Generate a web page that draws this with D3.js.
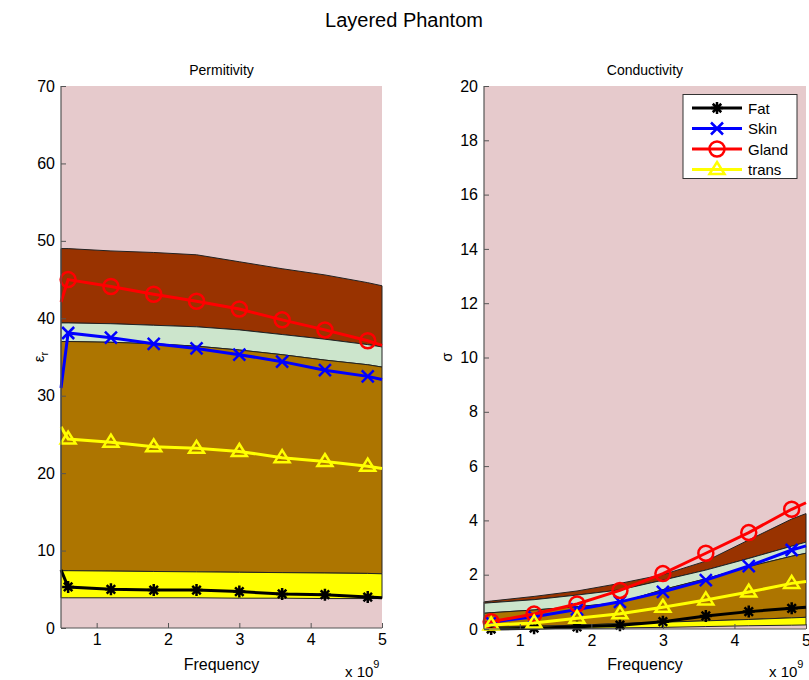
<!DOCTYPE html>
<html><head><meta charset="utf-8">
<script src="https://cdn.jsdelivr.net/npm/d3@7"></script>
<style>
body{margin:0;background:#fff;}
svg{display:block;font-family:"Liberation Sans",Arial,sans-serif;}
</style></head>
<body><svg id="chart" width="809" height="680"></svg>
<script>
// Frequencies in units of 1e9 Hz
const freqs = [0.5, 0.6, 1.2, 1.8, 2.4, 3.0, 3.6, 4.2, 4.8, 5.0];
const xTicks = [1, 2, 3, 4, 5];
const permTicks = [0, 10, 20, 30, 40, 50, 60, 70];
const condTicks = [0, 2, 4, 6, 8, 10, 12, 14, 16, 18, 20];
const seriesNames = ["Fat", "Skin", "Gland", "trans"];

// Permittivity series
const permFat   = [7.5, 5.3, 5.0, 4.9, 4.9, 4.7, 4.4, 4.3, 4.0, 3.9];
const permSkin  = [31.0, 38.1, 37.5, 36.7, 36.1, 35.3, 34.4, 33.3, 32.5, 32.1];
const permGland = [42.1, 45.0, 44.1, 43.1, 42.2, 41.2, 39.8, 38.5, 37.1, 36.5];
const permTrans = [26.0, 24.4, 24.0, 23.4, 23.2, 22.8, 22.0, 21.5, 20.9, 20.6];
// Permittivity band boundaries (top to bottom)
const permGlandTop = [49.0, 49.0, 48.7, 48.5, 48.2, 47.3, 46.4, 45.6, 44.6, 44.2];
const permGreenTop = [39.4, 39.4, 39.3, 39.1, 38.9, 38.5, 37.9, 37.3, 36.6, 36.3];
const permOrangeTop = [37.0, 37.0, 36.9, 36.7, 36.4, 35.9, 35.3, 34.6, 34.0, 33.7];
const permYellowTop = [7.4, 7.4, 7.35, 7.3, 7.25, 7.2, 7.15, 7.1, 7.05, 7.0];
const permYellowBot = [3.9, 3.9, 3.9, 3.9, 3.9, 3.85, 3.85, 3.8, 3.8, 3.8];

// Conductivity series
const condFat   = [0.0, 0.0, 0.03, 0.08, 0.14, 0.27, 0.48, 0.64, 0.76, 0.8];
const condSkin  = [0.2, 0.25, 0.45, 0.72, 1.0, 1.37, 1.8, 2.32, 2.91, 3.06];
const condGland = [0.22, 0.27, 0.55, 0.92, 1.42, 2.04, 2.79, 3.55, 4.41, 4.65];
const condTrans = [0.1, 0.15, 0.22, 0.4, 0.56, 0.8, 1.07, 1.36, 1.68, 1.75];
// Conductivity band boundaries
const condGlandTop = [1.0, 1.03, 1.2, 1.4, 1.68, 2.0, 2.5, 3.28, 4.05, 4.25];
const condGreenTop = [0.95, 0.97, 1.08, 1.25, 1.44, 1.8, 2.17, 2.6, 3.05, 3.2];
const condOrangeTop = [0.58, 0.6, 0.7, 0.82, 0.97, 1.45, 1.85, 2.3, 2.68, 2.79];
const condYellowTop = [0.06, 0.06, 0.1, 0.14, 0.2, 0.25, 0.3, 0.35, 0.41, 0.43];
const condYellowBot = [0.0, 0.0, 0.01, 0.02, 0.04, 0.06, 0.09, 0.12, 0.14, 0.15];

const bgColor = "#e6cacc";
const bandColors = ["#993300", "#cce5cc", "#ad7500", "#ffff00"];
const lineColors = ["#000000", "#0000ff", "#ff0000", "#ffff00"];
const markers = ["star", "x", "circle", "triangle"];

const svg = d3.select("#chart");

svg.append("text").attr("x", 404).attr("y", 27).attr("text-anchor", "middle")
  .attr("font-size", 20).text("Layered Phantom");

function drawMarker(g, type, cx, cy, color) {
  const s = 6;
  if (type === "star") {
    const p = d3.path();
    for (let k = 0; k < 4; k++) {
      const a = k * Math.PI / 4;
      p.moveTo(cx - s * Math.cos(a), cy - s * Math.sin(a));
      p.lineTo(cx + s * Math.cos(a), cy + s * Math.sin(a));
    }
    g.append("path").attr("d", p.toString()).attr("stroke", color).attr("stroke-width", 2.5).attr("fill", "none");
  } else if (type === "x") {
    const p = d3.path();
    p.moveTo(cx - s, cy - s); p.lineTo(cx + s, cy + s);
    p.moveTo(cx - s, cy + s); p.lineTo(cx + s, cy - s);
    g.append("path").attr("d", p.toString()).attr("stroke", color).attr("stroke-width", 2.5).attr("fill", "none");
  } else if (type === "circle") {
    g.append("circle").attr("cx", cx).attr("cy", cy).attr("r", 7.5)
      .attr("stroke", color).attr("stroke-width", 2.5).attr("fill", "none");
  } else {
    const h = 7.5;
    g.append("path").attr("d", `M${cx},${cy - h}L${cx + h},${cy + h * 0.6}L${cx - h},${cy + h * 0.6}Z`)
      .attr("stroke", color).attr("stroke-width", 2.5).attr("fill", "none");
  }
}

function panel(opts) {
  const x = d3.scaleLinear().domain([0.5, 5]).range(opts.xr);
  const y = d3.scaleLinear().domain(opts.yd).range(opts.yr);
  const g = svg.append("g");
  g.append("rect").attr("x", opts.xr[0]).attr("y", opts.yr[1])
    .attr("width", opts.xr[1] - opts.xr[0]).attr("height", opts.yr[0] - opts.yr[1]).attr("fill", bgColor);
  const area = d3.area().x((d, i) => x(freqs[i])).y0(d => y(d[1])).y1(d => y(d[0]));
  const bounds = opts.bounds;
  for (let b = 0; b < bounds.length - 1; b++) {
    const data = bounds[b].map((v, i) => [v, bounds[b + 1][i]]);
    g.append("path").datum(data).attr("d", area).attr("fill", bandColors[b])
      .attr("stroke", "#222").attr("stroke-width", 1);
  }
  const line = d3.line().x((d, i) => x(freqs[i])).y(d => y(d));
  opts.series.forEach((s, k) => {
    g.append("path").datum(s).attr("d", line).attr("fill", "none")
      .attr("stroke", lineColors[k]).attr("stroke-width", 3);
    s.forEach((v, i) => {
      if (i > 0 && i < s.length - 1) drawMarker(g, markers[k], x(freqs[i]), y(v), lineColors[k]);
    });
  });
  const ax = g.append("g").attr("transform", `translate(0,${opts.yr[0]})`)
    .call(d3.axisBottom(x).tickValues(xTicks).tickFormat(d3.format("d")).tickSize(-5).tickPadding(6));
  const ay = g.append("g").attr("transform", `translate(${opts.xr[0]},0)`)
    .call(d3.axisLeft(y).tickValues(opts.yTicks).tickFormat(d3.format("d")).tickSize(-5).tickPadding(6));
  [ax, ay].forEach(a => {
    a.select(".domain").attr("stroke", "#555").attr("stroke-width", 1.2);
    a.selectAll(".tick line").attr("stroke", "#555");
    a.selectAll(".tick text").attr("font-size", 16).attr("fill", "#000")
      .attr("font-family", "'Liberation Sans',Arial,sans-serif");
  });
  ax.select(".domain").attr("d", `M${opts.xr[0]},0H${opts.xr[1]}`);
  ay.select(".domain").attr("d", `M0,${opts.yr[0]}V${opts.yr[1]}`);
  const cx = (opts.xr[0] + opts.xr[1]) / 2;
  g.append("text").attr("x", cx).attr("y", 75).attr("text-anchor", "middle").attr("font-size", 14).text(opts.title);
  g.append("text").attr("x", cx).attr("y", 670).attr("text-anchor", "middle").attr("font-size", 16).text("Frequency");
  const ex = g.append("text").attr("x", opts.xr[1] - 37).attr("y", 677).attr("font-size", 15);
  ex.append("tspan").text("x 10");
  ex.append("tspan").attr("dy", -9).attr("font-size", 11).text("9");
  return g;
}

panel({xr: [61, 382], yr: [628, 86], yd: [0, 70], yTicks: permTicks, title: "Permitivity",
  bounds: [permGlandTop, permGreenTop, permOrangeTop, permYellowTop, permYellowBot],
  series: [permFat, permSkin, permGland, permTrans]});
panel({xr: [484, 806], yr: [629, 86], yd: [0, 20], yTicks: condTicks, title: "Conductivity",
  bounds: [condGlandTop, condGreenTop, condOrangeTop, condYellowTop, condYellowBot],
  series: [condFat, condSkin, condGland, condTrans]});

// Y labels
const yl = svg.append("text").attr("transform", "translate(44,357) rotate(-90)")
  .attr("text-anchor", "middle").attr("font-size", 15);
yl.append("tspan").text("ε");
yl.append("tspan").attr("dy", 4).attr("font-size", 11).text("r");
svg.append("text").attr("transform", "translate(452,357) rotate(-90)")
  .attr("text-anchor", "middle").attr("font-size", 15).text("σ");

// Legend
const lg = svg.append("g");
lg.append("rect").attr("x", 683).attr("y", 94.5).attr("width", 114).attr("height", 84)
  .attr("fill", "#fff").attr("stroke", "#333").attr("stroke-width", 1);
seriesNames.forEach((n, k) => {
  const yy = 108 + k * 20.5;
  lg.append("line").attr("x1", 692).attr("x2", 742).attr("y1", yy).attr("y2", yy)
    .attr("stroke", lineColors[k]).attr("stroke-width", 3);
  drawMarker(lg, markers[k], 717, yy, lineColors[k]);
  lg.append("text").attr("x", 748).attr("y", yy + 5.5).attr("font-size", 15).text(n);
});
</script></body></html>
